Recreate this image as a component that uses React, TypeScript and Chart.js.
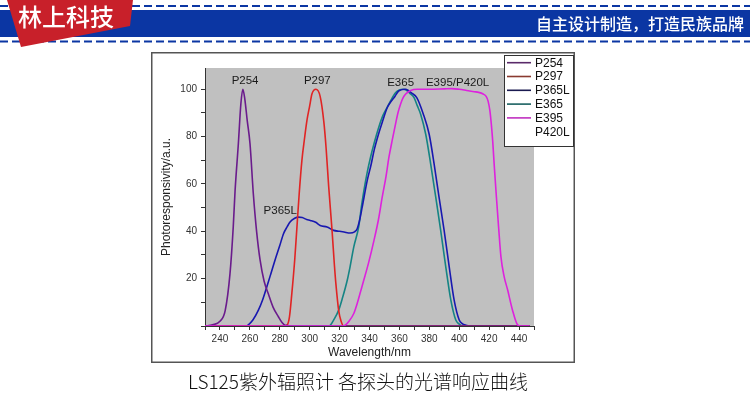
import React, { useEffect, useRef } from 'react';
import { Chart, registerables } from 'chart.js';

Chart.register(...registerables);

// ---- data ----
const SERIES_NAMES = ['P254', 'P297', 'P365L', 'E365', 'E395'];
const LINE_COLORS = ['#6a1b8c', '#e02424', '#1818b0', '#158484', '#dd22dd'];
const LEGEND_NAMES = ['P254', 'P297', 'P365L', 'E365', 'E395', 'P420L'];
const LEGEND_COLORS = ['#5a2a6a', '#8a3a30', '#1a1a50', '#1a6060', '#c030c0', ''];

const P254_WL = [230, 235, 240, 243.5, 246.7, 248.9, 250.1, 252.3, 254, 255.3, 256.6, 258.2, 260.1, 262.3, 264.5, 266.8, 269.5, 272.4, 275.5, 279.1, 281.5, 283.6, 290, 447];
const P254_VAL = [0, 0.5, 2, 6.5, 22, 42, 57, 77, 94, 100, 96, 87, 77, 56, 40, 28, 19, 13.5, 8, 3.9, 1.5, 0.3, 0, 0];

const P297_WL = [230, 283, 285, 286.5, 288.1, 290, 291.5, 293, 294.8, 296.5, 298.2, 300, 301.5, 304.2, 307, 309.5, 311, 312.7, 315, 316.5, 317.5, 319.4, 321, 322.8, 330, 447];
const P297_VAL = [0, 0, 0.5, 4, 14, 28, 42, 56, 70, 79, 87, 93, 98, 100, 97, 86, 75, 59, 40, 26, 18, 6.5, 2, 0, 0, 0];

const P365L_WL = [230, 257.5, 259, 262, 265.7, 268.5, 271.3, 274, 276.9, 280, 282.5, 285, 287, 290, 292.5, 295, 298, 300.4, 304, 307, 311.6, 316, 320, 323, 327, 330, 331.7, 333.5, 335.1, 338.5, 341, 343, 346, 348.5, 351.9, 354, 357, 359.7, 364, 366, 368, 371.6, 376, 379.9, 383.2, 386.5, 389.9, 393.3, 396.6, 400, 402, 404.5, 407, 447];
const P365L_VAL = [0, 0, 0.5, 2.5, 6.7, 11, 16.5, 22, 28, 34, 39, 42, 44, 45.5, 46, 45.8, 45, 44.6, 43.8, 42.5, 41.8, 40.4, 40, 39.7, 39.3, 39.8, 41, 45, 50.2, 61.5, 68, 74, 81, 86, 92.3, 94.5, 97, 99.4, 100, 99.5, 98.5, 96.5, 89.5, 81, 68.5, 54.4, 40.4, 25, 10.9, 2.5, 1, 0.3, 0, 0];

const E365_WL = [230, 313, 313.8, 316, 319.4, 322, 325, 327, 329.5, 332.8, 334.5, 336.2, 338.5, 340.7, 343, 346.2, 349, 351.9, 354, 357.4, 360, 362.5, 365, 367, 369.8, 372, 374.2, 377.6, 380.9, 384.3, 387.6, 391, 394.4, 397.7, 400, 402.2, 447];
const E365_VAL = [0, 0, 0.3, 2.5, 6.7, 12, 19, 25, 33.4, 42, 50, 57, 65, 71.3, 77, 84, 89, 92.5, 95, 98.5, 99.7, 100, 99.5, 98.3, 96.5, 93, 89.5, 81, 68.5, 54.4, 40.4, 25, 10.9, 2.5, 0.8, 0, 0];

const E395_WL = [230, 322, 324, 326, 329.5, 332, 334, 336.2, 339.5, 343, 346, 348.5, 351, 353, 355.2, 357.4, 359, 360.8, 362.5, 364.2, 367.5, 372, 380, 390, 395, 400, 405, 410, 413, 416, 418, 419.3, 420.5, 421.5, 422.4, 423.5, 424.8, 426.3, 427.9, 430, 432.4, 435.5, 439, 441, 447];
const E395_VAL = [0, 0, 0.5, 1.8, 5.3, 10, 14.5, 19.4, 27, 36.2, 45, 54.4, 63, 71.3, 78.5, 85.3, 90, 93.8, 96.5, 98, 99.5, 100, 100, 100.2, 100.3, 100, 99.5, 99, 98.7, 98, 97, 95, 91, 85, 78, 67, 55, 42, 29.2, 21, 15.2, 7, 0.5, 0, 0];

const SERIES_WL = [P254_WL, P297_WL, P365L_WL, E365_WL, E395_WL];
const SERIES_VAL = [P254_VAL, P297_VAL, P365L_VAL, E365_VAL, E395_VAL];

const X_TICK_LABELS = [240, 260, 280, 300, 320, 340, 360, 380, 400, 420, 440];
const Y_TICK_LABELS = [20, 40, 60, 80, 100];

const PEAK_LABELS = ['P254', 'P297', 'P365L', 'E365', 'E395/P420L'];
const PEAK_X = [256.8, 305.1, 280.3, 360.8, 398.9];
const PEAK_Y = [103.6, 103.6, 48.8, 102.9, 102.9];

const X_TITLE = 'Wavelength/nm';
const Y_TITLE = 'Photoresponsivity/a.u.';
const BRAND = '林上科技';
const SLOGAN = '自主设计制造，打造民族品牌';
const CAPTION = 'LS125紫外辐照计 各探头的光谱响应曲线';

const FONT = "'Liberation Sans', Arial, sans-serif";
const CJK = "'Noto Sans CJK SC', sans-serif";

const decorPlugin = {
  id: 'decor',
  beforeDraw(chart: any) {
    const { ctx, chartArea: a } = chart;
    ctx.save();
    ctx.fillStyle = '#ffffff';
    ctx.fillRect(151, 52, 424, 311);
    ctx.strokeStyle = '#555555';
    ctx.lineWidth = 1.5;
    ctx.strokeRect(151.75, 52.75, 422.5, 309.5);
    ctx.fillStyle = '#c0c0c0';
    ctx.fillRect(a.left, a.top, a.right - a.left, a.bottom - a.top);
    ctx.restore();
  },
  afterDatasetsDraw(chart: any) {
    const { ctx, scales } = chart;
    ctx.save();
    ctx.font = `11.5px ${FONT}`;
    ctx.fillStyle = '#1a1a1a';
    ctx.textAlign = 'center';
    ctx.textBaseline = 'middle';
    PEAK_LABELS.forEach((t, i) => {
      ctx.fillText(t, scales.x.getPixelForValue(PEAK_X[i]), scales.y.getPixelForValue(PEAK_Y[i]));
    });
    ctx.restore();
  },
  afterDraw(chart: any) {
    const { ctx } = chart;
    ctx.save();
    const bx = 504, by = 55, bw = 69, bh = 91;
    ctx.fillStyle = '#ffffff';
    ctx.fillRect(bx, by, bw, bh);
    ctx.strokeStyle = '#333333';
    ctx.lineWidth = 1;
    ctx.strokeRect(bx + 0.5, by + 0.5, bw, bh);
    ctx.font = `12px ${FONT}`;
    ctx.textBaseline = 'middle';
    ctx.textAlign = 'left';
    LEGEND_NAMES.forEach((name, i) => {
      const y = 62.7 + i * 13.8;
      if (LEGEND_COLORS[i]) {
        ctx.strokeStyle = LEGEND_COLORS[i];
        ctx.lineWidth = 1.6;
        ctx.beginPath();
        ctx.moveTo(507, y);
        ctx.lineTo(531, y);
        ctx.stroke();
      }
      ctx.fillStyle = '#111111';
      ctx.fillText(name, 535, y + 0.5);
    });
    ctx.restore();
  },
};

export default function App() {
  const ref = useRef<HTMLCanvasElement | null>(null);

  useEffect(() => {
    if (!ref.current) return;
    const datasets = SERIES_NAMES.map((name, i) => ({
      label: name,
      data: SERIES_WL[i].map((w, j) => ({ x: w, y: SERIES_VAL[i][j] })),
      borderColor: LINE_COLORS[i],
      backgroundColor: LINE_COLORS[i],
      borderWidth: 1.6,
      pointRadius: 0,
      fill: false,
      tension: 0.4,
      cubicInterpolationMode: 'monotone' as const,
      order: name === 'E395' ? -1 : i,
    }));
    const chart = new Chart(ref.current, {
      type: 'line',
      data: { datasets },
      options: {
        animation: false,
        responsive: false,
        events: [],
        layout: { padding: { left: 151, right: 216, top: 68, bottom: 37 } },
        plugins: { legend: { display: false }, tooltip: { enabled: false } },
        scales: {
          x: {
            type: 'linear',
            min: 230,
            max: 450,
            afterFit: (s: any) => { s.height = 37; },
            border: { display: true, color: '#333333', width: 1 },
            grid: { drawOnChartArea: false, drawTicks: true, tickLength: 4, color: '#333333' },
            ticks: {
              stepSize: 10,
              autoSkip: false,
              maxRotation: 0,
              includeBounds: false,
              padding: 3,
              color: '#333333',
              font: { size: 10, family: FONT },
              callback: (v: any) => (X_TICK_LABELS.includes(Number(v)) ? String(v) : ''),
            },
            title: {
              display: true,
              text: X_TITLE,
              color: '#222222',
              font: { size: 12, family: FONT },
              padding: { top: 0, bottom: 3 },
            },
          },
          y: {
            type: 'linear',
            min: 0,
            max: 109,
            afterFit: (s: any) => { s.width = 54; },
            border: { display: true, color: '#333333', width: 1 },
            grid: { drawOnChartArea: false, drawTicks: true, tickLength: 4, color: '#333333' },
            ticks: {
              stepSize: 10,
              autoSkip: false,
              includeBounds: false,
              padding: 4,
              color: '#333333',
              font: { size: 10, family: FONT },
              callback: (v: any) => (Y_TICK_LABELS.includes(Number(v)) ? String(v) : ''),
            },
            title: {
              display: true,
              text: Y_TITLE,
              color: '#222222',
              font: { size: 12, family: FONT },
              padding: { top: 8, bottom: 0 },
            },
          },
        },
      },
      plugins: [decorPlugin],
    });
    return () => chart.destroy();
  }, []);

  const blue = '#0b36a3';
  return (
    <div style={{ position: 'absolute', left: 0, top: 0, width: 750, height: 400, overflow: 'hidden', background: '#ffffff' }}>
      <canvas ref={ref} width={750} height={400} style={{ position: 'absolute', left: 0, top: 0 }} />
      <svg width={750} height={400} style={{ position: 'absolute', left: 0, top: 0, pointerEvents: 'none' }}>
        <line x1={0} y1={6} x2={750} y2={6} stroke={blue} strokeWidth={2.2} strokeDasharray="8 4" />
        <rect x={0} y={10} width={750} height={27} fill={blue} />
        <line x1={0} y1={41.5} x2={750} y2={41.5} stroke={blue} strokeWidth={2.2} strokeDasharray="8 4" />
        <polygon points="7,0 133,0 130,26 21,47" fill="#c8202a" />
        <text x={18} y={15.5} fill="#ffffff" fontFamily={CJK} fontSize={24} fontWeight={500} dominantBaseline="central">{BRAND}</text>
        <text x={744} y={23} fill="#ffffff" fontFamily={CJK} fontSize={16} fontWeight={500} textAnchor="end" dominantBaseline="central">{SLOGAN}</text>
        <text x={358} y={380} fill="#111111" fontFamily={CJK} fontSize={19} fontWeight={300} textAnchor="middle" dominantBaseline="central">{CAPTION}</text>
      </svg>
    </div>
  );
}
